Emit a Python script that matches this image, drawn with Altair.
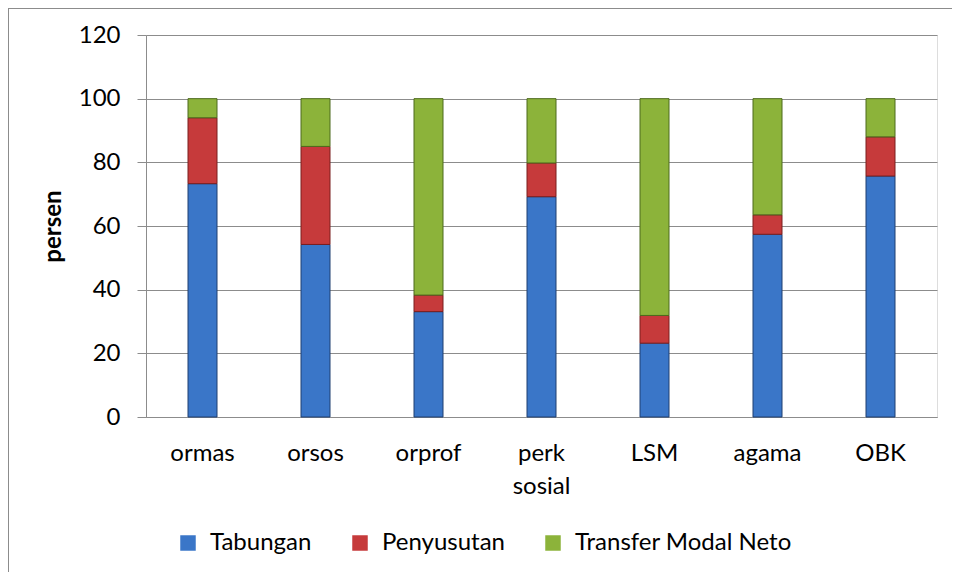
import altair as alt
import pandas as pd

categories = ["ormas", "orsos", "orprof", "perk sosial", "LSM", "agama", "OBK"]
tabungan = [73.3, 54.2, 33.1, 69.2, 23.2, 57.4, 75.7]
penyusutan = [20.7, 30.8, 5.2, 10.6, 8.7, 6.1, 12.3]
transfer = [6.0, 15.0, 61.7, 20.2, 68.1, 36.5, 12.0]
series = ["Tabungan", "Penyusutan", "Transfer Modal Neto"]
colors = ["#3A76C8", "#C63A3B", "#8CB33A"]
strokes = ["#1E3F70", "#7A1E1F", "#4D6A1C"]

rows = []
for i, c in enumerate(categories):
    for k, (s, vals) in enumerate(zip(series, [tabungan, penyusutan, transfer])):
        rows.append({"kategori": c, "seri": s, "nilai": vals[i], "urut": k})
df = pd.DataFrame(rows)

FONT = "Lato"
FS = 24

bars = alt.Chart(df).mark_bar(size=29, strokeWidth=1).encode(
    x=alt.X("kategori:N", sort=categories, title=None,
            axis=alt.Axis(labelAngle=0, ticks=False, labelPadding=24,
                          labelFontSize=FS, labelFont=FONT, labelColor="#000",
                          labelLineHeight=33, domainColor="#8C8C8C",
                          labelExpr="datum.label == 'perk sosial' ? ['perk', 'sosial'] : datum.label")),
    y=alt.Y("nilai:Q", stack="zero", title="persen",
            scale=alt.Scale(domain=[0, 120]),
            axis=alt.Axis(values=[0, 20, 40, 60, 80, 100, 120], tickSize=9,
                          labelPadding=17, labelFontSize=FS, labelFont=FONT,
                          labelColor="#000", tickColor="#8C8C8C", domainColor="#8C8C8C",
                          gridColor="#8C8C8C", titleFont=FONT, titleFontSize=FS,
                          titleFontWeight="bold", titleColor="#000", titlePadding=13)),
    color=alt.Color("seri:N", sort=series, scale=alt.Scale(domain=series, range=colors),
                    legend=alt.Legend(title=None, orient="none", direction="horizontal",
                                      legendX=30, legendY=496, symbolType="square",
                                      symbolSize=240, symbolStrokeWidth=0,
                                      labelFontSize=FS, labelFont=FONT, labelColor="#000",
                                      labelOffset=10, columnPadding=36, padding=0,
                                      labelLimit=0)),
    stroke=alt.Stroke("seri:N", scale=alt.Scale(domain=series, range=strokes), legend=None),
    order=alt.Order("urut:Q"),
)

border_left = alt.Chart(df).mark_rule(color="#8C8C8C", strokeWidth=1).encode(
    x=alt.value(-137.5), y=alt.value(-27), y2=alt.value(560))
border_top = alt.Chart(df).mark_rule(color="#8C8C8C", strokeWidth=1).encode(
    x=alt.value(-137.5), x2=alt.value(820), y=alt.value(-26.5))

chart = alt.layer(bars, border_left, border_top).properties(
    width=791, height=382,
    autosize=alt.AutoSizeParams(type="none"),
    padding={"left": 138, "top": 27, "right": 15, "bottom": 155},
).configure_view(stroke=None).configure(background="white")

chart.save("out.html", embed_options={"renderer": "svg", "actions": False})
